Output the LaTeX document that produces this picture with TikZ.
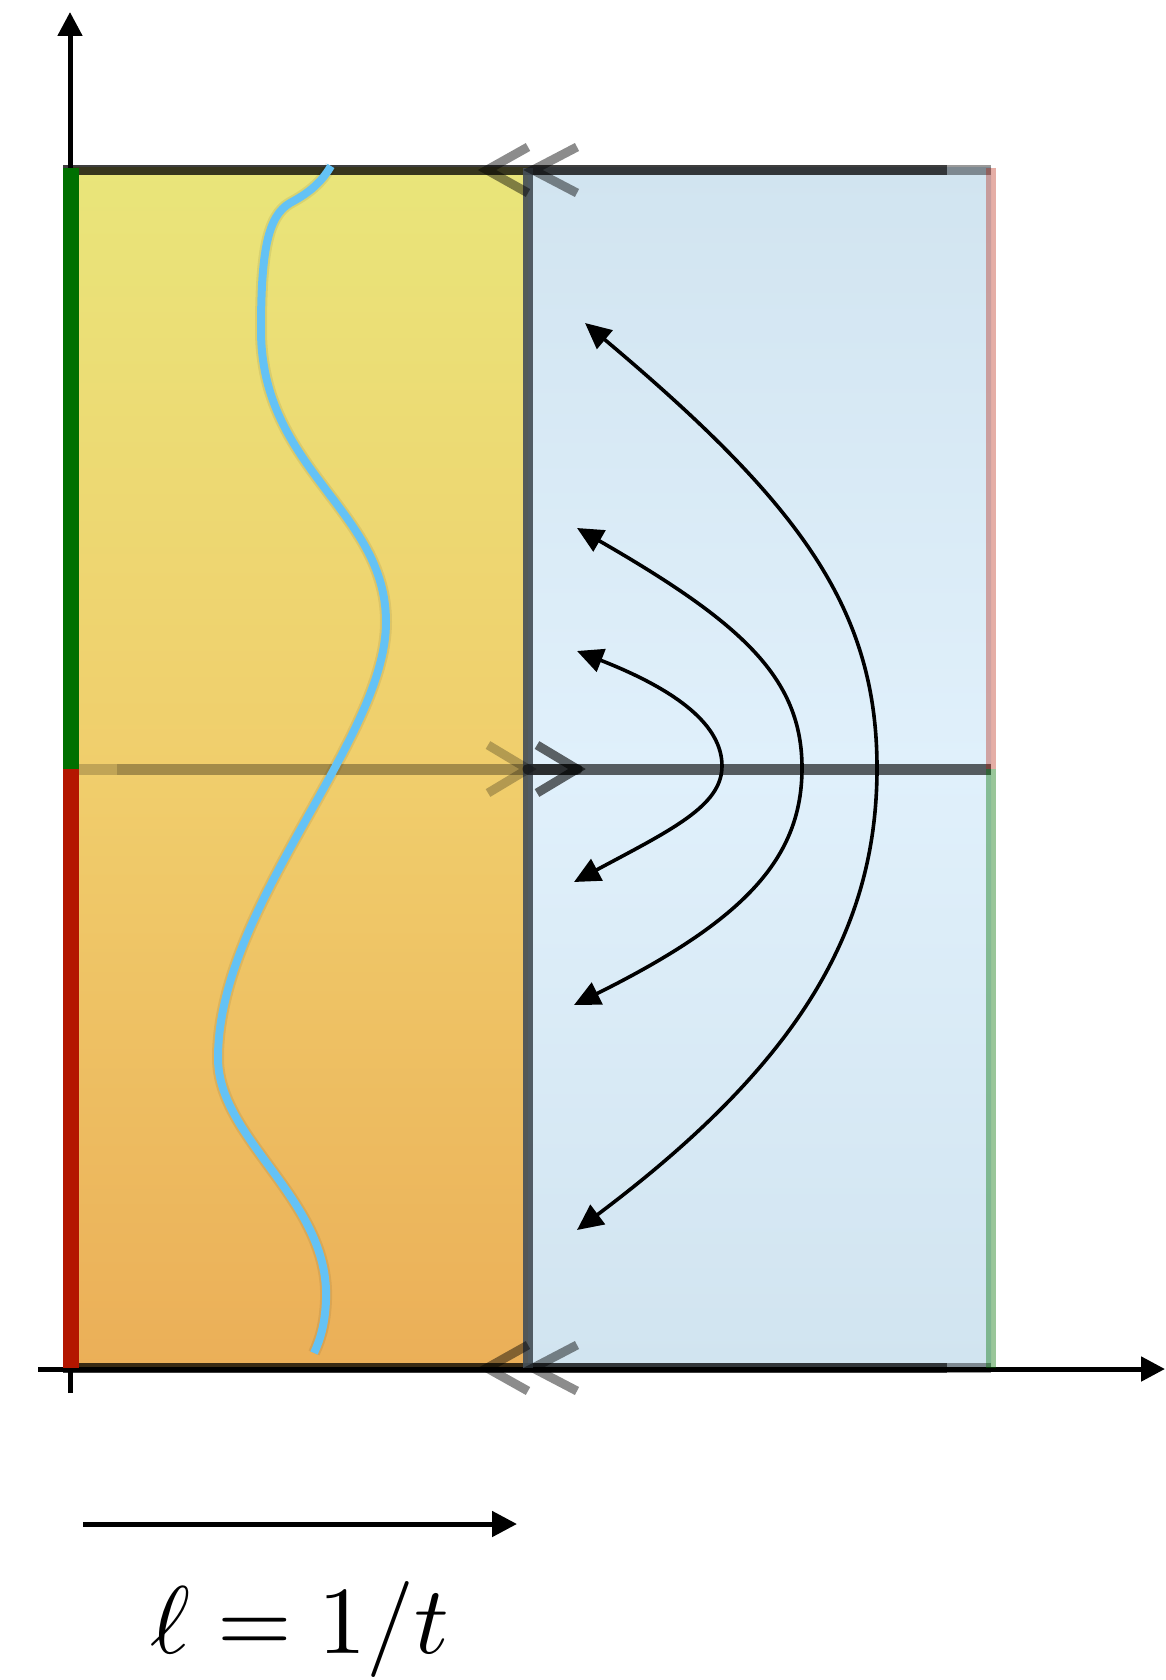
\documentclass[tikz,border=0pt]{standalone}
\usetikzlibrary{arrows.meta}
\definecolor{ytop}{RGB}{233,229,122}
\definecolor{ymid}{RGB}{240,206,108}
\definecolor{ybot}{RGB}{235,175,88}
\definecolor{bedge}{RGB}{209,228,240}
\definecolor{bmid}{RGB}{224,240,251}
\definecolor{wave}{RGB}{100,194,245}
\definecolor{gbar}{RGB}{0,112,0}
\definecolor{rbar}{RGB}{180,22,0}
\definecolor{divc}{RGB}{70,80,88}
\begin{document}
\begin{tikzpicture}[x=1pt,y=-1pt,
  axis/.style={line width=5pt,-{Triangle[length=24pt,width=24pt]}},
  flow/.style={line width=3.6pt,{Triangle[length=26pt,width=24pt]}-{Triangle[length=26pt,width=24pt]}},
  chev/.style={line width=9pt,black,opacity=0.45},
  edge/.style={line width=10pt,black},
  bar/.style={line width=16pt},
  wshadow/.style={line width=12pt,black,opacity=0.07},
  wline/.style={line width=8pt,wave}]
\useasboundingbox (0,0) rectangle (1165,1680);
% corner coordinates
\coordinate (TL) at (71,168);
\coordinate (TM) at (528,168);
\coordinate (TR) at (991,168);
\coordinate (ML) at (71,769);
\coordinate (MM) at (528,769);
\coordinate (MR) at (991,769);
\coordinate (BL) at (71,1368);
\coordinate (BM) at (528,1368);
\coordinate (BR) at (991,1368);
% fills
\shade[top color=ytop, bottom color=ybot, middle color=ymid] (TL) rectangle (BM);
\shade[top color=bedge, bottom color=bedge, middle color=bmid] (TM) rectangle (BR);
% axes
\coordinate (xa0) at (38,1369);
\coordinate (xa1) at (1165,1369);
\coordinate (ya0) at (70,1393);
\coordinate (ya1) at (70,12);
\draw[axis] (xa0) -- (xa1);
\draw[axis] (ya0) -- (ya1);
% top and bottom edges
\coordinate (TE) at (947,170);
\coordinate (BE) at (947,1368);
\draw[edge,opacity=0.4] (63,170) -- (TR |- TE);
\draw[edge,opacity=0.6] (63,170) -- (TE);
\draw[edge,opacity=0.4] (63,1368) -- (BR);
\draw[edge,opacity=0.6] (63,1368) -- (BE);
% middle horizontal line
\coordinate (MLb) at (117,769);
\coordinate (MA) at (577,769);
\draw[line width=11pt,black,opacity=0.2] (ML) -- (MM);
\draw[line width=11pt,black,opacity=0.15] (MLb) -- (MM);
\draw[line width=11pt,black,opacity=0.62] (MM) -- (MR);
% divider
\draw[line width=10pt,divc,opacity=0.92] (TM) -- (BM);
% arrow head on midline
\draw[line width=11pt,black,opacity=0.5,line cap=round] (MM) -- (MA);
% right edge
\draw[line width=10pt,rbar,opacity=0.35] (TR) -- (MR);
\draw[line width=10pt,gbar,opacity=0.4] (MR) -- (BR);
% left bar
\draw[bar,gbar] (TL) -- (ML);
\draw[bar,rbar] (ML) -- (BL);
% chevrons top
\draw[chev] (528,147) -- (487,170) -- (528,193);
\draw[chev] (577,147) -- (533,170) -- (577,193);
% chevrons bottom
\draw[chev] (528,1345) -- (487,1368) -- (528,1391);
\draw[chev] (577,1345) -- (533,1368) -- (577,1391);
% chevrons middle
\draw[line width=9pt,black,opacity=0.25] (488,745) -- (528,769) -- (488,793);
\draw[line width=9pt,black,opacity=0.6] (537,745) -- (577,769) -- (537,793);
% wavy curve
\coordinate (w0) at (331,166);
\coordinate (w1) at (290,203);
\coordinate (w2) at (261,330);
\coordinate (w3) at (386,622);
\coordinate (w4) at (218,1058);
\coordinate (w5) at (326,1300);
\coordinate (w6) at (314,1353);
\foreach \ws in {wshadow,wline}{
\draw[\ws] (w0) .. controls (320,185) and (305,195) .. (w1)
  .. controls (268,216) and (261,250) .. (w2)
  .. controls (261,470) and (386,510) .. (w3)
  .. controls (386,740) and (218,905) .. (w4)
  .. controls (218,1140) and (330,1200) .. (w5)
  .. controls (325,1325) and (320,1340) .. (w6);
}
% flow arcs
\coordinate (o1) at (585,323);
\coordinate (o2) at (877,768);
\coordinate (o3) at (577,1230);
\draw[flow] (o1) .. controls (799,503) and (877,608) .. (o2) .. controls (877,928) and (801,1062) .. (o3);
\coordinate (m1) at (577,528);
\coordinate (m2) at (802,768);
\coordinate (m3) at (574,1005);
\draw[flow] (m1) .. controls (742,623) and (802,678) .. (m2) .. controls (802,858) and (745,920) .. (m3);
\coordinate (i1) at (577,651);
\coordinate (i2) at (722,766);
\coordinate (i3) at (574,882);
\draw[flow] (i1) .. controls (679,691) and (722,726) .. (i2) .. controls (722,806) and (671,830) .. (i3);
% label arrow
\coordinate (la0) at (83,1524);
\coordinate (la1) at (517,1524);
\draw[line width=5pt,-{Triangle[length=25pt,width=25pt]}] (la0) -- (la1);
\node[anchor=base,inner sep=0pt,scale=9.6] (lab) at (300,1653) {$\ell = 1/t$};
\end{tikzpicture}
\end{document}
